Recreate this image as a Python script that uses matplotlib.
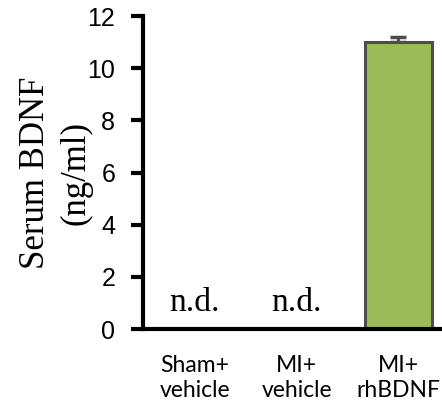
import matplotlib.pyplot as plt

groups = ["Sham+\nvehicle", "MI+\nvehicle", "MI+\nrhBDNF"]
bdnf = [0.0, 0.0, 11.0]
sem = [0.0, 0.0, 0.2]
detected = [False, False, True]

fig = plt.figure(figsize=(4.42, 4.11), dpi=100)
ax = fig.add_axes([0.3235, 0.1995, 0.6765, 0.7615])

x = range(len(groups))
for i in x:
    if detected[i]:
        ax.bar(i, bdnf[i], width=0.66, color="#9BBB59", edgecolor="#4D4D4D",
               linewidth=2.2, zorder=2)
        ax.errorbar(i, bdnf[i], yerr=[[0], [sem[i]]], fmt="none",
                    ecolor="#4D4D4D", elinewidth=2.2, capsize=6, capthick=2.5,
                    zorder=1)
    else:
        ax.text(i, 1.0, "n.d.", ha="center", va="center",
                family="Liberation Serif", fontsize=24)

ax.set_xlim(-0.51, 2.43)
ax.set_ylim(0, 12)
ax.set_yticks(range(0, 13, 2))
ax.set_xticks(list(x))
ax.set_xticklabels(groups, family="Lato", fontsize=16.5, linespacing=1.2)
for lab in ax.get_yticklabels():
    lab.set_family("Liberation Sans")
    lab.set_fontsize(18)

ax.spines["top"].set_visible(False)
ax.spines["right"].set_visible(False)
ax.spines["left"].set_linewidth(3)
ax.spines["bottom"].set_linewidth(3)
ax.tick_params(axis="y", direction="out", length=9, width=3, pad=11)
ax.tick_params(axis="x", length=0, pad=19)

ax.set_ylabel("Serum BDNF\n(ng/ml)", family="Liberation Serif", fontsize=25,
              linespacing=1.3, labelpad=-4)

fig.savefig("out.png", dpi=100)
